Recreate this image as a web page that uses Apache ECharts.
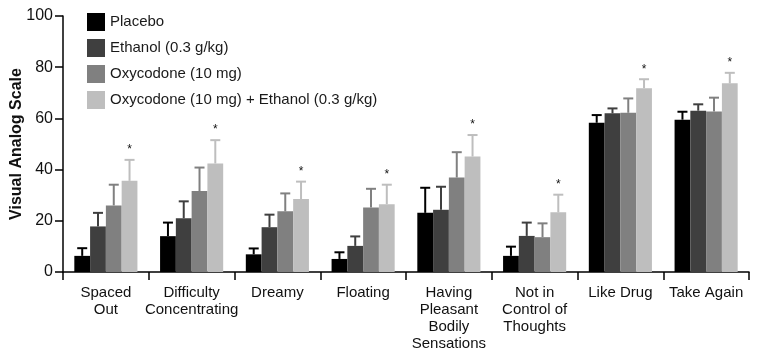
<!DOCTYPE html>
<html>
<head>
<meta charset="utf-8">
<script src="https://cdn.jsdelivr.net/npm/echarts@6/dist/echarts.min.js"></script>
<style>html,body{margin:0;padding:0;background:#fff}#c{width:759px;height:358px}</style>
</head>
<body>
<div id="c"></div>
<script>
const categories = ['Spaced\nOut','Difficulty\nConcentrating','Dreamy','Floating','Having\nPleasant\nBodily\nSensations','Not in\nControl of\nThoughts','Like Drug','Take Again'];
const seriesNames = ['Placebo','Ethanol (0.3 g/kg)','Oxycodone (10 mg)','Oxycodone (10 mg) + Ethanol (0.3 g/kg)'];
const placebo    = [6.3, 14.0, 6.9, 5.1, 23.1, 6.3, 58.3, 59.5];
const placeboErr = [3.0, 5.3, 2.3, 2.6, 9.8, 3.6, 3.0, 3.1];
const ethanol    = [17.8, 21.0, 17.5, 10.2, 24.3, 14.1, 62.0, 63.0];
const ethanolErr = [5.3, 6.6, 4.9, 3.7, 9.0, 5.2, 1.9, 2.5];
const oxy        = [26.0, 31.6, 23.7, 25.2, 36.9, 13.6, 62.2, 62.7];
const oxyErr     = [8.1, 9.2, 7.0, 7.3, 9.9, 5.4, 5.6, 5.4];
const combo      = [35.6, 42.4, 28.5, 26.5, 45.1, 23.3, 71.8, 73.7];
const comboErr   = [8.2, 9.1, 6.8, 7.6, 8.4, 6.9, 3.5, 4.1];
const comboSig   = [1, 1, 1, 1, 1, 1, 1, 1];
const yTicks = [0, 20, 40, 60, 80, 100];

const colors = ['#000000', '#3f3f3f', '#808080', '#bebebe'];
const values = [placebo, ethanol, oxy, combo];
const errors = [placeboErr, ethanolErr, oxyErr, comboErr];
const sigs = [null, null, null, comboSig];
const BAR_PCT = 0.184;
const FONT = '"Liberation Sans", Arial, Helvetica, sans-serif';

const barSeries = values.map((v, k) => ({
  type: 'bar', name: seriesNames[k], data: v,
  barWidth: (BAR_PCT * 100) + '%', barGap: '0%',
  itemStyle: { color: colors[k] }, z: 2
}));

const errSeries = values.map((v, k) => ({
  type: 'custom', name: 'err' + k,
  data: v.map((val, i) => [i, val, errors[k][i], sigs[k] ? sigs[k][i] : 0]),
  z: 3, silent: true,
  renderItem: function (params, api) {
    const i = api.value(0), val = api.value(1), err = api.value(2), sig = api.value(3);
    const base = api.coord([i, val]);
    const capP = api.coord([i, val + err]);
    const bandW = api.size([1, 0])[0];
    const bw = bandW * BAR_PCT;
    const x = base[0] + (k - 1.5) * bw;
    const children = [
      { type: 'line', shape: { x1: x, y1: base[1], x2: x, y2: capP[1] }, style: { stroke: colors[k], lineWidth: 2 } },
      { type: 'line', shape: { x1: x - 5, y1: capP[1], x2: x + 5, y2: capP[1] }, style: { stroke: colors[k], lineWidth: 2 } }
    ];
    if (sig) {
      children.push({ type: 'text', style: { text: '*', x: x, y: capP[1] - 4, align: 'center', verticalAlign: 'bottom', fill: '#111', font: '12px ' + FONT } });
    }
    return { type: 'group', children: children };
  }
}));

const chart = echarts.init(document.getElementById('c'));
chart.setOption({
  animation: false,
  textStyle: { fontFamily: FONT },
  grid: { left: 63, right: 10, top: 16, bottom: 86, outerBoundsMode: 'none', containLabel: false },
  legend: {
    data: seriesNames, orient: 'vertical', left: 82, top: 8,
    itemWidth: 18, itemHeight: 18, itemGap: 8, icon: 'rect',
    textStyle: { fontSize: 15, color: '#1a1a1a', fontFamily: FONT }
  },
  xAxis: {
    type: 'category', data: categories,
    axisLine: { lineStyle: { color: '#000', width: 1.5 } },
    axisTick: { show: true, length: 8, lineStyle: { color: '#000', width: 1.5 } },
    axisLabel: { interval: 0, fontSize: 15, lineHeight: 17, margin: 12, color: '#111', fontFamily: FONT }
  },
  yAxis: {
    type: 'value', min: yTicks[0], max: yTicks[yTicks.length - 1], interval: 20,
    name: 'Visual Analog Scale', nameLocation: 'middle', nameGap: 38, nameMoveOverlap: false,
    nameTextStyle: { fontSize: 16, fontWeight: 'bold', color: '#111', fontFamily: FONT },
    axisLine: { show: true, lineStyle: { color: '#000', width: 1.5 } },
    axisTick: { show: true, length: 8, lineStyle: { color: '#000', width: 1.5 } },
    axisLabel: { fontSize: 16, color: '#111', margin: 10 },
    splitLine: { show: false }
  },
  series: barSeries.concat(errSeries)
});
</script>
</body>
</html>
